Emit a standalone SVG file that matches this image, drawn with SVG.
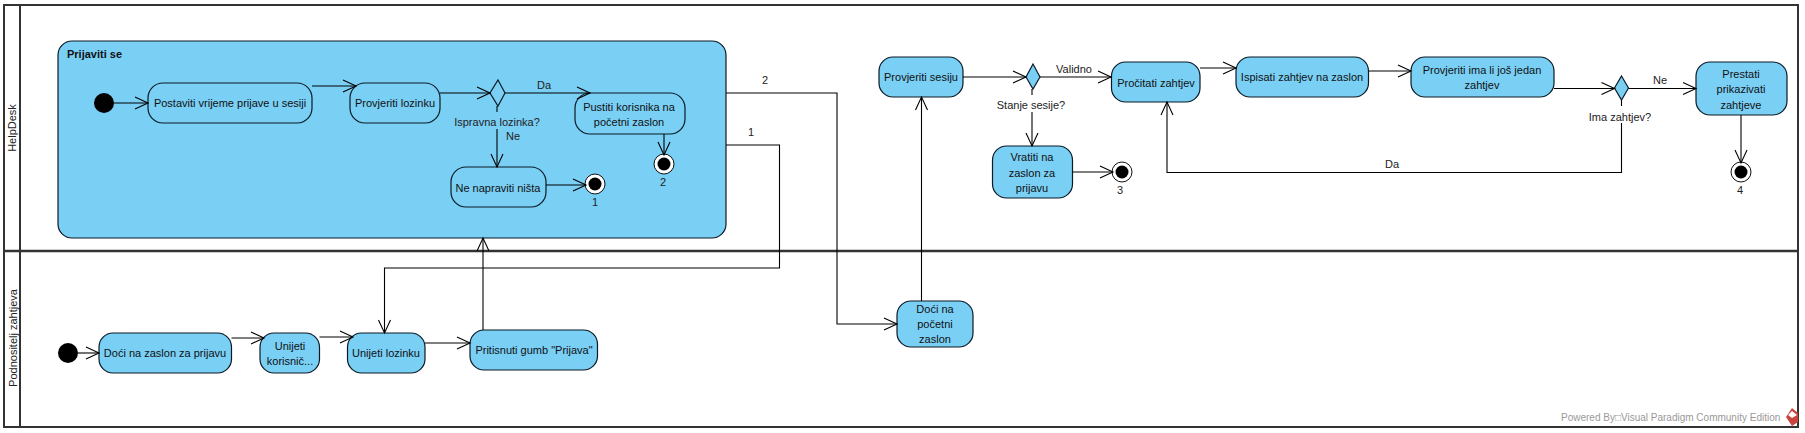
<svg xmlns="http://www.w3.org/2000/svg" width="1805" height="433" viewBox="0 0 1805 433">
<style>
text{font-family:"Liberation Sans",Arial,sans-serif;font-size:11px;fill:#111;text-anchor:middle;dominant-baseline:central}
.a{fill:#7ACFF5;stroke:#0b1a24;stroke-width:1.2}
.f{fill:none;stroke:#333;stroke-width:2}
.c{fill:none;stroke:#000;stroke-width:1.1}
.ar{marker-end:url(#o)}
.d{fill:#000}
.fr{fill:#fff;stroke:#111;stroke-width:1}
.l{font-size:11px;fill:#222}
.lane{font-size:11px;fill:#222}
</style>
<defs>
<marker id="o" markerUnits="userSpaceOnUse" markerWidth="16" markerHeight="16" refX="14" refY="7" orient="auto">
<path d="M1,1 L14,7 L1,13" fill="none" stroke="#000" stroke-width="1.1"/>
</marker>
</defs>
<rect width="1805" height="433" fill="#fff"/>
<g id="lanes">
<rect class="f" x="4" y="5" width="1794" height="422"/>
<path class="f" d="M20,5V427"/>
<path d="M4,251H1798" fill="none" stroke="#333" stroke-width="2.6"/>
<text class="lane" transform="translate(12,128) rotate(-90)">HelpDesk</text>
<text class="lane" transform="translate(13,338) rotate(-90)">Podnositelj zahtjeva</text>
</g>
<g id="group-prijaviti">
<rect class="a" x="58" y="41" width="668" height="197" rx="14"/>
<text x="67" y="54" style="text-anchor:start;font-weight:bold;font-size:11px">Prijaviti se</text>
</g>
<g id="n-postaviti"><rect class="a" x="148" y="83" width="164" height="40" rx="15"/><text x="230" y="103">Postaviti vrijeme prijave u sesiji</text></g>
<g id="n-provjeriti-lozinku"><rect class="a" x="350" y="83" width="90" height="40" rx="15"/><text x="395" y="103">Provjeriti lozinku</text></g>
<g id="n-pustiti"><rect class="a" x="575" y="93" width="110" height="41" rx="15"/><text x="629" y="107">Pustiti korisnika na</text><text x="629" y="122">početni zaslon</text></g>
<g id="n-ne-napraviti"><rect class="a" x="451" y="167" width="95" height="40" rx="15"/><text x="498" y="188">Ne napraviti ništa</text></g>
<g id="n-init1"><circle class="d" cx="104" cy="103" r="10"/></g>
<g id="n-dec1"><polygon class="a" points="498,80 505,93 498,106 490,93"/></g>
<g id="n-final1"><circle class="fr" cx="595" cy="184" r="10"/><circle class="d" cx="595" cy="184" r="6.500"/><text x="595" y="202" class="l">1</text></g>
<g id="n-final2"><circle class="fr" cx="664" cy="164" r="10"/><circle class="d" cx="664" cy="164" r="6.500"/><text x="663" y="182" class="l">2</text></g>
<g id="n-init2"><circle class="d" cx="68" cy="353" r="10"/></g>
<g id="n-doci-zaslon"><rect class="a" x="99" y="333" width="132.500" height="40" rx="14"/><text x="165" y="353">Doći na zaslon za prijavu</text></g>
<g id="n-unijeti-kor"><rect class="a" x="260" y="333" width="59.500" height="40" rx="14"/><text x="290" y="346">Unijeti</text><text x="290" y="361">korisnič...</text></g>
<g id="n-unijeti-loz"><rect class="a" x="347.500" y="333" width="77.500" height="40" rx="14"/><text x="386" y="353">Unijeti lozinku</text></g>
<g id="n-pritisnuti"><rect class="a" x="470" y="330" width="127.500" height="40" rx="14"/><text x="534" y="350">Pritisnuti gumb "Prijava"</text></g>
<g id="n-doci-pocetni"><rect class="a" x="897" y="301" width="76" height="46" rx="14"/><text x="935" y="309">Doći na</text><text x="935" y="324">početni</text><text x="935" y="339">zaslon</text></g>
<g id="n-provjeriti-sesiju"><rect class="a" x="879" y="57" width="84" height="40" rx="14"/><text x="921" y="77">Provjeriti sesiju</text></g>
<g id="n-dec2"><polygon class="a" points="1033,64 1040,77 1033,89 1026,77"/></g>
<g id="n-vratiti"><rect class="a" x="992.500" y="146" width="80" height="52" rx="14"/><text x="1032" y="157">Vratiti na</text><text x="1032" y="173">zaslon za</text><text x="1032" y="188">prijavu</text></g>
<g id="n-final3"><circle class="fr" cx="1122" cy="172" r="10"/><circle class="d" cx="1122" cy="172" r="6.500"/><text x="1120" y="190" class="l">3</text></g>
<g id="n-procitati"><rect class="a" x="1111.500" y="62" width="88.500" height="40" rx="14"/><text x="1156" y="83">Pročitati zahtjev</text></g>
<g id="n-ispisati"><rect class="a" x="1236" y="57" width="132.500" height="40" rx="14"/><text x="1302" y="77">Ispisati zahtjev na zaslon</text></g>
<g id="n-provjeriti-ima"><rect class="a" x="1411" y="57" width="143" height="40" rx="14"/><text x="1482" y="70">Provjeriti ima li još jedan</text><text x="1482" y="85">zahtjev</text></g>
<g id="n-dec3"><polygon class="a" points="1621.500,76 1628.500,88 1621.500,100 1614.500,88"/></g>
<g id="n-prestati"><rect class="a" x="1696" y="62" width="91" height="53" rx="14"/><text x="1741" y="74">Prestati</text><text x="1741" y="89">prikazivati</text><text x="1741" y="105">zahtjeve</text></g>
<g id="n-final4"><circle class="fr" cx="1741" cy="172" r="10"/><circle class="d" cx="1741" cy="172" r="6.500"/><text x="1740" y="190" class="l">4</text></g>
<g id="connectors">
<path class="c ar" d="M114,103H148"/>
<path class="c ar" d="M312,86H356"/>
<path class="c ar" d="M440,93H490"/>
<path class="c ar" d="M505,93H590"/>
<path class="c" d="M497,106V112"/>
<path class="c ar" d="M497,129V167"/>
<path class="c ar" d="M664,134V155"/>
<path class="c ar" d="M546,185H586"/>
<path class="c ar" d="M726,145H779.500V268H384.500V333"/>
<path class="c ar" d="M726,93H837V324H897"/>
<path class="c ar" d="M921.500,301V97"/>
<path class="c ar" d="M483,330V238"/>
<path class="c ar" d="M78,353H99"/>
<path class="c ar" d="M231.500,338H264"/>
<path class="c ar" d="M319.500,337H353"/>
<path class="c ar" d="M425,343H470"/>
<path class="c ar" d="M963,77H1026"/>
<path class="c ar" d="M1040,77H1111"/>
<path class="c ar" d="M1200,68H1236"/>
<path class="c" d="M1032,89V95"/>
<path class="c ar" d="M1032,112V146"/>
<path class="c ar" d="M1072.500,172H1113"/>
<path class="c ar" d="M1368.500,71H1411"/>
<path class="c ar" d="M1554,88.500H1614.500"/>
<path class="c ar" d="M1628.500,88.500H1696"/>
<path class="c" d="M1621.500,100V106"/>
<path class="c ar" d="M1621.500,123V172.500H1167V102"/>
<path class="c ar" d="M1741,115V163"/>
<text class="l" x="544" y="85">Da</text>
<text class="l" x="497" y="122">Ispravna lozinka?</text>
<text class="l" x="513" y="136">Ne</text>
<text class="l" x="765" y="80">2</text>
<text class="l" x="751" y="132">1</text>
<text class="l" x="1074" y="69">Validno</text>
<text class="l" x="1031" y="105">Stanje sesije?</text>
<text class="l" x="1660" y="80">Ne</text>
<text class="l" x="1620" y="117">Ima zahtjev?</text>
<text class="l" x="1392" y="164">Da</text>
</g>
<g id="footer">
<text x="1561" y="417" style="text-anchor:start;font-size:10px;fill:#999">Powered By□Visual Paradigm Community Edition</text>
<polygon points="1792,408 1798,413 1798,422 1792,426 1786,417" fill="#c8443c"/>
<polygon points="1792,411 1797,415 1792,418 1788,415" fill="#fff"/>
</g>
</svg>
